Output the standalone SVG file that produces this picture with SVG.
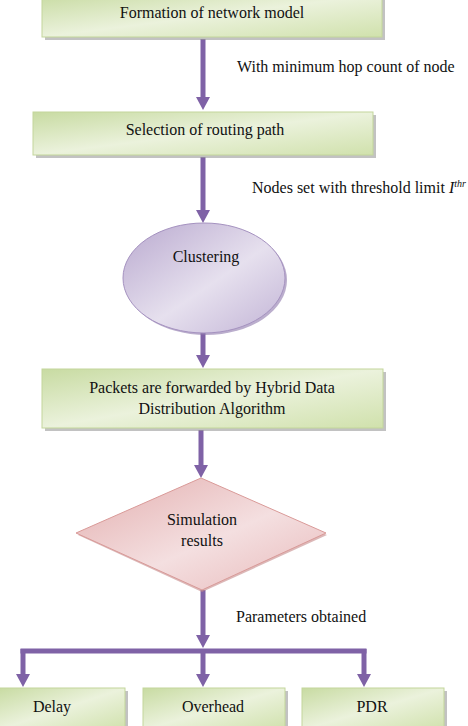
<svg xmlns="http://www.w3.org/2000/svg" width="468" height="726" viewBox="0 0 468 726">
<defs>
<linearGradient id="gGreen" x1="0" y1="0" x2="1" y2="1">
<stop offset="0" stop-color="#c8dba2"/>
<stop offset="0.5" stop-color="#ebf2dc"/>
<stop offset="1" stop-color="#d0e1ac"/>
</linearGradient>
<linearGradient id="gPurple" x1="0" y1="0" x2="1" y2="1">
<stop offset="0" stop-color="#b9a9cf"/>
<stop offset="0.55" stop-color="#e6e0ee"/>
<stop offset="1" stop-color="#c2b4d6"/>
</linearGradient>
<linearGradient id="gPink" x1="0" y1="0" x2="1" y2="1">
<stop offset="0" stop-color="#e3aeae"/>
<stop offset="0.55" stop-color="#f4dfe0"/>
<stop offset="1" stop-color="#e8b9ba"/>
</linearGradient>
<marker id="ah" markerUnits="userSpaceOnUse" markerWidth="14" markerHeight="14" refX="0" refY="7" orient="auto">
<path d="M0,0 L13,7 L0,14 Z" fill="#7f62a6"/>
</marker>
</defs>

<g id="connectors" fill="none" stroke="#7f62a6" stroke-width="5">
<line x1="203" y1="39" x2="203" y2="97" marker-end="url(#ah)"/>
<line x1="203" y1="157" x2="203" y2="210" marker-end="url(#ah)"/>
<line x1="203" y1="333" x2="203" y2="355" marker-end="url(#ah)"/>
<line x1="201" y1="430" x2="201" y2="465" marker-end="url(#ah)"/>
<line x1="203" y1="590" x2="203" y2="635" marker-end="url(#ah)"/>
<path d="M20.5,651 H366.5"/>
<path d="M23,649 V674" marker-end="url(#ah)"/>
<path d="M203,649 V674" marker-end="url(#ah)"/>
<path d="M364,649 V674" marker-end="url(#ah)"/>
</g>

<text x="237" y="72" font-family="Times New Roman, serif" font-size="16" fill="#111">With minimum hop count of node</text>
<text x="252" y="193" font-family="Times New Roman, serif" font-size="16" fill="#111">Nodes set with threshold limit <tspan font-style="italic">I</tspan><tspan font-style="italic" font-size="10" dy="-6">thr</tspan></text>
<text x="236" y="622" font-family="Times New Roman, serif" font-size="16" fill="#111">Parameters obtained</text>

<g id="n1">
<rect x="45" y="-3" width="340" height="43" fill="#9a9a9a" opacity="0.6"/>
<rect x="42" y="-6" width="340" height="43" fill="url(#gGreen)" stroke="#c3d69b"/>
<text x="212" y="18" text-anchor="middle" font-family="Times New Roman, serif" font-size="16" fill="#111">Formation of network model</text>
</g>

<g id="n2">
<rect x="36" y="115" width="340" height="43" fill="#9a9a9a" opacity="0.6"/>
<rect x="33" y="112" width="340" height="43" fill="url(#gGreen)" stroke="#c3d69b"/>
<text x="205" y="135" text-anchor="middle" font-family="Times New Roman, serif" font-size="16" fill="#111">Selection of routing path</text>
</g>

<g id="n3">
<ellipse cx="206" cy="280" rx="81" ry="55" fill="#8d78ab" opacity="0.6"/>
<ellipse cx="204" cy="278" rx="81" ry="55" fill="url(#gPurple)" stroke="#a592c0"/>
<text x="206" y="262" text-anchor="middle" font-family="Times New Roman, serif" font-size="16" fill="#111">Clustering</text>
</g>

<g id="n4">
<rect x="45" y="372" width="341" height="59" fill="#9a9a9a" opacity="0.6"/>
<rect x="42" y="369" width="341" height="59" fill="url(#gGreen)" stroke="#c3d69b"/>
<text x="212" y="393" text-anchor="middle" font-family="Times New Roman, serif" font-size="16" fill="#111">Packets are forwarded by Hybrid Data</text>
<text x="212" y="414" text-anchor="middle" font-family="Times New Roman, serif" font-size="16" fill="#111">Distribution Algorithm</text>
</g>

<g id="n5">
<polygon points="201,480 327,535 202,592 78,535" fill="#c48888" opacity="0.6"/>
<polygon points="201,478 326,533 202,590 76,533" fill="url(#gPink)" stroke="#d99a98"/>
<text x="202" y="525" text-anchor="middle" font-family="Times New Roman, serif" font-size="16" fill="#111">Simulation</text>
<text x="202" y="546" text-anchor="middle" font-family="Times New Roman, serif" font-size="16" fill="#111">results</text>
</g>

<g id="n6">
<rect x="1" y="691" width="127" height="42" fill="#9a9a9a" opacity="0.6"/>
<rect x="-2" y="688" width="127" height="42" fill="url(#gGreen)" stroke="#c3d69b"/>
<text x="52" y="712" text-anchor="middle" font-family="Times New Roman, serif" font-size="16" fill="#111">Delay</text>
</g>

<g id="n7">
<rect x="146" y="691" width="142" height="42" fill="#9a9a9a" opacity="0.6"/>
<rect x="143" y="688" width="142" height="42" fill="url(#gGreen)" stroke="#c3d69b"/>
<text x="213" y="712" text-anchor="middle" font-family="Times New Roman, serif" font-size="16" fill="#111">Overhead</text>
</g>

<g id="n8">
<rect x="305" y="691" width="142" height="42" fill="#9a9a9a" opacity="0.6"/>
<rect x="302" y="688" width="142" height="42" fill="url(#gGreen)" stroke="#c3d69b"/>
<text x="372" y="712" text-anchor="middle" font-family="Times New Roman, serif" font-size="16" fill="#111">PDR</text>
</g>
</svg>
